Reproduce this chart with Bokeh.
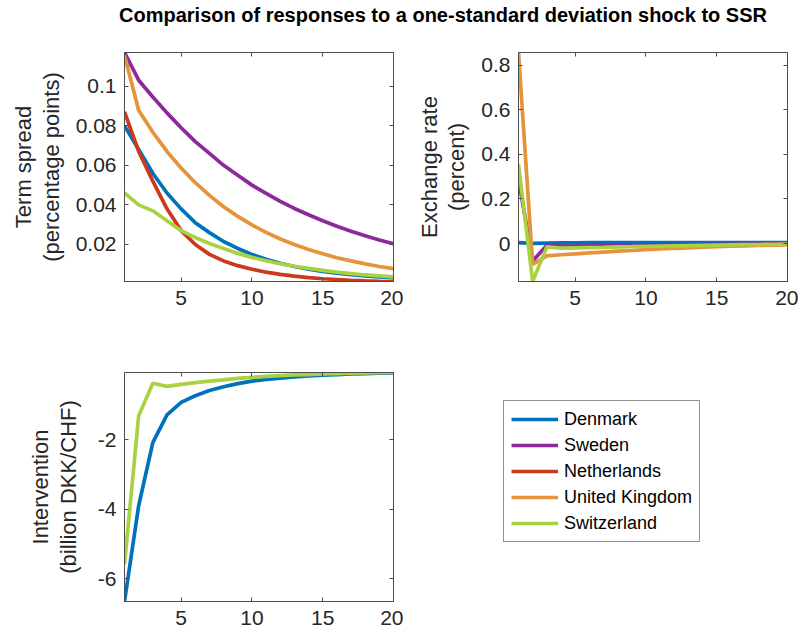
from bokeh.plotting import figure
from bokeh.models import Range1d, FixedTicker, LinearAxis, Legend, LegendItem, Div
from bokeh.layouts import column, row
from bokeh.embed import file_html
from bokeh.resources import INLINE

# ---------------- data ----------------
horizon = list(range(1, 21))
countries = ["Denmark", "Sweden", "Netherlands", "United Kingdom", "Switzerland"]
colors = ["#0072BD", "#8C2A9C", "#C93A1E", "#E5943A", "#A9D140"]

x_ticks = [5, 10, 15, 20]

# Term spread (percentage points)
spread_denmark = [0.080, 0.068, 0.056, 0.046, 0.038, 0.031, 0.026, 0.0215, 0.018, 0.015,
                  0.0125, 0.0105, 0.0089, 0.0075, 0.0064, 0.0055, 0.0047, 0.0041, 0.0036, 0.0032]
spread_sweden = [0.117, 0.103, 0.0945, 0.0865, 0.079, 0.072, 0.066, 0.060, 0.055, 0.050,
                 0.0458, 0.0418, 0.0382, 0.035, 0.032, 0.0292, 0.0267, 0.0244, 0.0223, 0.0204]
spread_netherlands = [0.087, 0.067, 0.052, 0.038, 0.027, 0.020, 0.015, 0.0117, 0.0093, 0.0075,
                      0.006, 0.0049, 0.004, 0.0033, 0.0027, 0.0023, 0.0019, 0.0016, 0.0014, 0.0013]
spread_uk = [0.1155, 0.0878, 0.0767, 0.067, 0.0586, 0.0512, 0.0448, 0.0391, 0.0342, 0.0299,
             0.0261, 0.0228, 0.0200, 0.0175, 0.0153, 0.0133, 0.0117, 0.0102, 0.0089, 0.0078]
spread_switzerland = [0.046, 0.040, 0.037, 0.032, 0.027, 0.0235, 0.0205, 0.018, 0.0155, 0.0135,
                      0.0118, 0.0103, 0.009, 0.0079, 0.0069, 0.006, 0.0053, 0.0046, 0.0041, 0.0036]
spread_ticks = [0.02, 0.04, 0.06, 0.08, 0.1]
spread_tick_labels = ["0.02", "0.04", "0.06", "0.08", "0.1"]

# Exchange rate (percent)
fx_denmark = [0.004, 0.001, 0.002, 0.003, 0.0035, 0.004, 0.004, 0.0045, 0.0045, 0.005,
              0.005, 0.005, 0.005, 0.005, 0.005, 0.005, 0.005, 0.005, 0.005, 0.005]
fx_sweden = [0.29, -0.078, -0.008, -0.010, -0.011, -0.010, -0.009, -0.009, -0.008, -0.007,
             -0.006, -0.005, -0.005, -0.004, -0.003, -0.003, -0.002, -0.002, -0.001, -0.001]
fx_uk = [0.857, -0.093, -0.055, -0.050, -0.046, -0.042, -0.038, -0.034, -0.031, -0.027,
         -0.024, -0.021, -0.019, -0.016, -0.014, -0.012, -0.010, -0.008, -0.007, -0.006]
fx_switzerland = [0.355, -0.170, -0.015, -0.020, -0.019, -0.018, -0.017, -0.015, -0.014, -0.012,
                  -0.011, -0.010, -0.009, -0.008, -0.007, -0.006, -0.005, -0.004, -0.003, -0.002]
fx_ticks = [0, 0.2, 0.4, 0.6, 0.8]
fx_tick_labels = ["0", "0.2", "0.4", "0.6", "0.8"]

# Intervention (billion DKK/CHF)
int_denmark = [-6.66, -3.90, -2.08, -1.28, -0.92, -0.73, -0.58, -0.47, -0.38, -0.31,
               -0.26, -0.22, -0.19, -0.16, -0.14, -0.12, -0.10, -0.09, -0.08, -0.07]
int_switzerland = [-5.59, -1.31, -0.37, -0.46, -0.40, -0.35, -0.31, -0.27, -0.23, -0.20,
                   -0.17, -0.15, -0.13, -0.12, -0.10, -0.09, -0.08, -0.07, -0.065, -0.06]
int_ticks = [-6, -4, -2]
int_tick_labels = ["-6", "-4", "-2"]

title_text = "Comparison of responses to a one-standard deviation shock to SSR"

# ---------------- styling helpers ----------------
FONT = "Liberation Sans"
TEXT_COLOR = "#262626"
AXIS_COLOR = "#4d4d4d"
LW = 3.7


def make_panel(yr, yticks, ylabels, ylabel, label_standoff, borders):
    left, right, top, bottom = borders
    p = figure(frame_width=269, frame_height=229,
               x_range=Range1d(1, 20), y_range=Range1d(*yr),
               output_backend="svg", toolbar_location=None,
               min_border_left=left, min_border_right=right,
               min_border_top=top, min_border_bottom=bottom,
               background_fill_color="white", border_fill_color="white")
    p.grid.visible = False
    p.outline_line_color = AXIS_COLOR
    p.outline_line_width = 1

    for ax in p.xaxis:
        ax.ticker = FixedTicker(ticks=x_ticks)
    for ax in p.yaxis:
        ax.ticker = FixedTicker(ticks=yticks)
        ax.major_label_overrides = dict(zip(yticks, ylabels))
        ax.axis_label = ylabel
        ax.axis_label_standoff = label_standoff
        ax.axis_label_text_font = FONT
        ax.axis_label_text_font_size = "22px"
        ax.axis_label_text_font_style = "normal"
        ax.axis_label_text_color = TEXT_COLOR
        ax.axis_label_text_line_height = 1.1
        ax.major_label_standoff = 8

    for ax in list(p.xaxis) + list(p.yaxis):
        ax.major_label_text_font = FONT
        ax.major_label_text_font_size = "21px"
        ax.major_label_text_color = TEXT_COLOR
        ax.axis_line_color = AXIS_COLOR
        ax.major_tick_line_color = AXIS_COLOR
        ax.major_tick_in = 4
        ax.major_tick_out = 0
        ax.minor_tick_line_color = None
    for ax in p.xaxis:
        ax.major_label_standoff = 9

    # tick marks on the top and right edges (box), no labels
    top_ax = LinearAxis(ticker=FixedTicker(ticks=x_ticks),
                        major_label_overrides={t: "" for t in x_ticks},
                        major_tick_in=4, major_tick_out=0, minor_tick_line_color=None,
                        axis_line_color=AXIS_COLOR, major_tick_line_color=AXIS_COLOR,
                        major_label_standoff=0)
    right_ax = LinearAxis(ticker=FixedTicker(ticks=yticks),
                          major_label_overrides={t: "" for t in yticks},
                          major_tick_in=4, major_tick_out=0, minor_tick_line_color=None,
                          axis_line_color=AXIS_COLOR, major_tick_line_color=AXIS_COLOR,
                          major_label_standoff=0)
    p.add_layout(top_ax, "above")
    p.add_layout(right_ax, "right")
    return p


# ---------------- panel 1: term spread ----------------
p1 = make_panel((0.0013, 0.117), spread_ticks, spread_tick_labels,
                "Term spread\n(percentage points)", 9, (124, 10, 12, 50))
spread_series = [spread_denmark, spread_sweden, spread_netherlands, spread_uk, spread_switzerland]
for ys, c in zip(spread_series, colors):
    p1.line(horizon, ys, line_color=c, line_width=LW)

# ---------------- panel 2: exchange rate ----------------
p2 = make_panel((-0.170, 0.857), fx_ticks, fx_tick_labels,
                "Exchange rate\n(percent)", 9, (115, 11, 12, 50))
for ys, c in zip([fx_denmark, fx_sweden, fx_uk, fx_switzerland],
                 [colors[0], colors[1], colors[3], colors[4]]):
    p2.line(horizon, ys, line_color=c, line_width=LW)

# ---------------- panel 3: intervention ----------------
p3 = make_panel((-6.66, -0.06), int_ticks, int_tick_labels,
                "Intervention\n(billion DKK/CHF)", 14, (124, 10, 41, 30))
p3.line(horizon, int_denmark, line_color=colors[0], line_width=LW)
p3.line(horizon, int_switzerland, line_color=colors[4], line_width=LW)

# ---------------- legend panel ----------------
# the series are plotted here outside the visible range, only to feed the legend
p4 = figure(width=395, height=300, x_range=Range1d(100, 101), y_range=Range1d(100, 101),
            x_axis_type=None, y_axis_type=None, output_backend="svg",
            toolbar_location=None, min_border=0, outline_line_color=None,
            background_fill_color="white", border_fill_color="white")
p4.grid.visible = False
leg_renderers = [p4.line(horizon, ys, line_color=c, line_width=LW)
                 for ys, c in zip(spread_series, colors)]
legend = Legend(items=[LegendItem(label=n, renderers=[r])
                       for n, r in zip(countries, leg_renderers)],
                location=(100, 59), orientation="vertical",
                label_text_font=FONT, label_text_font_size="18px", label_text_color="black",
                glyph_width=47, glyph_height=22, label_height=22, spacing=4,
                padding=7, margin=0, label_standoff=6,
                border_line_color=TEXT_COLOR, border_line_width=1,
                background_fill_color="white", background_fill_alpha=1)
p4.add_layout(legend)

# ---------------- title ----------------
title = Div(text=f'<div style="width:688px;margin-left:94px;text-align:center;'
                 f'font-family:\'{FONT}\';font-weight:bold;font-size:20px;line-height:20px;'
                 f'color:black;white-space:nowrap;">{title_text}</div>',
            width=798, height=30)

layout = column(title, row(p1, p2), row(p3, p4))
open("out.html", "w").write(file_html(layout, INLINE))
